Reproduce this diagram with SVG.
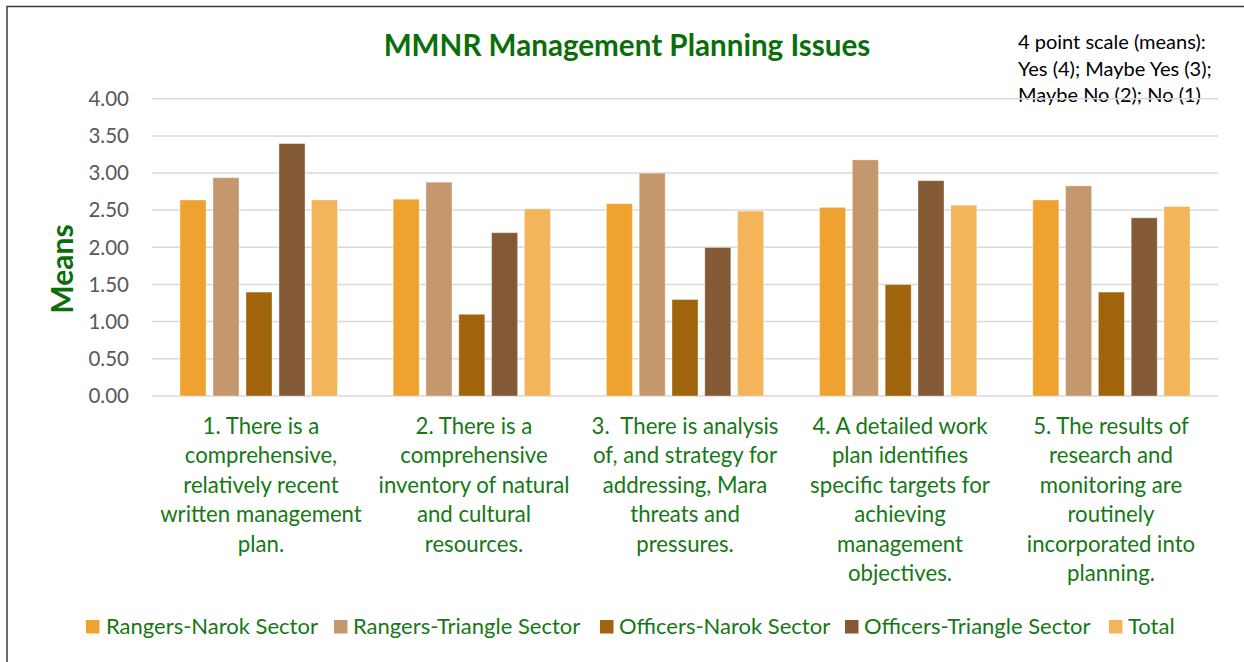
<svg xmlns="http://www.w3.org/2000/svg" width="1244" height="662" viewBox="0 0 1244 662">
<style>
.grid{stroke:#D9D9D9;stroke-width:1.5}
.tick{font-family:Lato,"Liberation Sans",sans-serif;font-size:20.5px;fill:#595959;text-anchor:end}
.cat{font-family:Lato,"Liberation Sans",sans-serif;font-size:22.2px;fill:#157815;text-anchor:middle}
.leg{font-family:Lato,"Liberation Sans",sans-serif;font-size:22px;fill:#157815}
.title{font-family:Lato,"Liberation Sans",sans-serif;font-size:29.6px;font-weight:bold;fill:#0B6E0B;text-anchor:middle}
.note{font-family:Lato,"Liberation Sans",sans-serif;font-size:20px;fill:#000}
.s1{fill:#EFA22F}.s2{fill:#C4976C}.s3{fill:#A0640C}.s4{fill:#835A35}.s5{fill:#F3B45A}
.bar rect{stroke:#FFFFFF;stroke-opacity:0.35;stroke-width:1}
</style>
<rect x="7" y="6.5" width="1300" height="700" fill="#FFFFFF" stroke="#3A3A3A" stroke-width="1.5"/>
<g id="title"><text class="title" x="627" y="56">MMNR Management Planning Issues</text></g>
<g id="note">
<text class="note" x="1018" y="49">4 point scale (means):</text>
<text class="note" x="1018" y="75.5">Yes (4); Maybe Yes (3);</text>
<text class="note" x="1018" y="102">Maybe No (2); No (1)</text>
</g>
<g id="gridlines">
<line class="grid" x1="152" y1="98.7" x2="1218" y2="98.7"/>
<line class="grid" x1="152" y1="135.9" x2="1218" y2="135.9"/>
<line class="grid" x1="152" y1="173" x2="1218" y2="173"/>
<line class="grid" x1="152" y1="210.1" x2="1218" y2="210.1"/>
<line class="grid" x1="152" y1="247.3" x2="1218" y2="247.3"/>
<line class="grid" x1="152" y1="284.4" x2="1218" y2="284.4"/>
<line class="grid" x1="152" y1="321.6" x2="1218" y2="321.6"/>
<line class="grid" x1="152" y1="358.7" x2="1218" y2="358.7"/>
<line class="grid" x1="152" y1="395.9" x2="1218" y2="395.9"/>
</g>
<g id="y-axis">
<text class="tick" x="129" y="106">4.00</text>
<text class="tick" x="129" y="143.2">3.50</text>
<text class="tick" x="129" y="180.3">3.00</text>
<text class="tick" x="129" y="217.4">2.50</text>
<text class="tick" x="129" y="254.6">2.00</text>
<text class="tick" x="129" y="291.7">1.50</text>
<text class="tick" x="129" y="328.9">1.00</text>
<text class="tick" x="129" y="366">0.50</text>
<text class="tick" x="129" y="403.2">0.00</text>
<text x="0" y="0" transform="translate(73,269) rotate(-90)" font-family="Lato,'Liberation Sans',sans-serif" font-size="30" font-weight="bold" fill="#0B6E0B" text-anchor="middle">Means</text>
</g>
<g id="bars" class="bar">
<g id="cat1">
<rect class="s1" x="180" y="200" width="26" height="196"/>
<rect class="s2" x="213" y="177.7" width="26" height="218.3"/>
<rect class="s3" x="246" y="292.1" width="26" height="103.9"/>
<rect class="s4" x="279" y="143.6" width="26" height="252.4"/>
<rect class="s5" x="311.5" y="200" width="26" height="196"/>
</g>
<g id="cat2">
<rect class="s1" x="393.2" y="199.2" width="26" height="196.8"/>
<rect class="s2" x="426" y="182.2" width="26" height="213.8"/>
<rect class="s3" x="458.8" y="314.3" width="26" height="81.7"/>
<rect class="s4" x="491.6" y="232.7" width="26" height="163.3"/>
<rect class="s5" x="524.4" y="208.9" width="26" height="187.1"/>
</g>
<g id="cat3">
<rect class="s1" x="606.4" y="203.7" width="26" height="192.3"/>
<rect class="s2" x="639.2" y="173.2" width="26" height="222.8"/>
<rect class="s3" x="672" y="299.5" width="26" height="96.5"/>
<rect class="s4" x="704.8" y="247.5" width="26" height="148.5"/>
<rect class="s5" x="737.6" y="211.1" width="26" height="184.9"/>
</g>
<g id="cat4">
<rect class="s1" x="819.6" y="207.4" width="26" height="188.6"/>
<rect class="s2" x="852.4" y="159.9" width="26" height="236.1"/>
<rect class="s3" x="885.2" y="284.6" width="26" height="111.4"/>
<rect class="s4" x="918" y="180.7" width="26" height="215.3"/>
<rect class="s5" x="950.8" y="205.2" width="26" height="190.8"/>
</g>
<g id="cat5">
<rect class="s1" x="1032.8" y="200" width="26" height="196"/>
<rect class="s2" x="1065.6" y="185.9" width="26" height="210.1"/>
<rect class="s3" x="1098.4" y="292.1" width="26" height="103.9"/>
<rect class="s4" x="1131.2" y="217.8" width="26" height="178.2"/>
<rect class="s5" x="1164" y="206.6" width="26" height="189.4"/>
</g>
</g>
<g id="categories">
<text class="cat" x="261" y="434"><tspan x="261">1. There is a</tspan><tspan x="261" dy="29.4">comprehensive,</tspan><tspan x="261" dy="29.4">relatively recent</tspan><tspan x="261" dy="29.4">written management</tspan><tspan x="261" dy="29.4">plan.</tspan></text>
<text class="cat" x="474" y="434"><tspan x="474">2. There is a</tspan><tspan x="474" dy="29.4">comprehensive</tspan><tspan x="474" dy="29.4">inventory of natural</tspan><tspan x="474" dy="29.4">and cultural</tspan><tspan x="474" dy="29.4">resources.</tspan></text>
<text class="cat" x="685" y="434"><tspan x="685">3.&#160; There is analysis</tspan><tspan x="685" dy="29.4">of, and strategy for</tspan><tspan x="685" dy="29.4">addressing, Mara</tspan><tspan x="685" dy="29.4">threats and</tspan><tspan x="685" dy="29.4">pressures.</tspan></text>
<text class="cat" x="900" y="434"><tspan x="900">4. A detailed work</tspan><tspan x="900" dy="29.4">plan identifies</tspan><tspan x="900" dy="29.4">specific targets for</tspan><tspan x="900" dy="29.4">achieving</tspan><tspan x="900" dy="29.4">management</tspan><tspan x="900" dy="29.4">objectives.</tspan></text>
<text class="cat" x="1111" y="434"><tspan x="1111">5. The results of</tspan><tspan x="1111" dy="29.4">research and</tspan><tspan x="1111" dy="29.4">monitoring are</tspan><tspan x="1111" dy="29.4">routinely</tspan><tspan x="1111" dy="29.4">incorporated into</tspan><tspan x="1111" dy="29.4">planning.</tspan></text>
</g>
<g id="legend">
<rect class="s1" x="86" y="620" width="13.5" height="13.5"/><text class="leg" x="106" y="633.5">Rangers-Narok Sector</text>
<rect class="s2" x="334" y="620" width="13.5" height="13.5"/><text class="leg" x="353" y="633.5">Rangers-Triangle Sector</text>
<rect class="s3" x="600" y="620" width="13.5" height="13.5"/><text class="leg" x="619" y="633.5">Officers-Narok Sector</text>
<rect class="s4" x="845" y="620" width="13.5" height="13.5"/><text class="leg" x="864" y="633.5">Officers-Triangle Sector</text>
<rect class="s5" x="1109" y="620" width="13.5" height="13.5"/><text class="leg" x="1128" y="633.5">Total</text>
</g>
</svg>
